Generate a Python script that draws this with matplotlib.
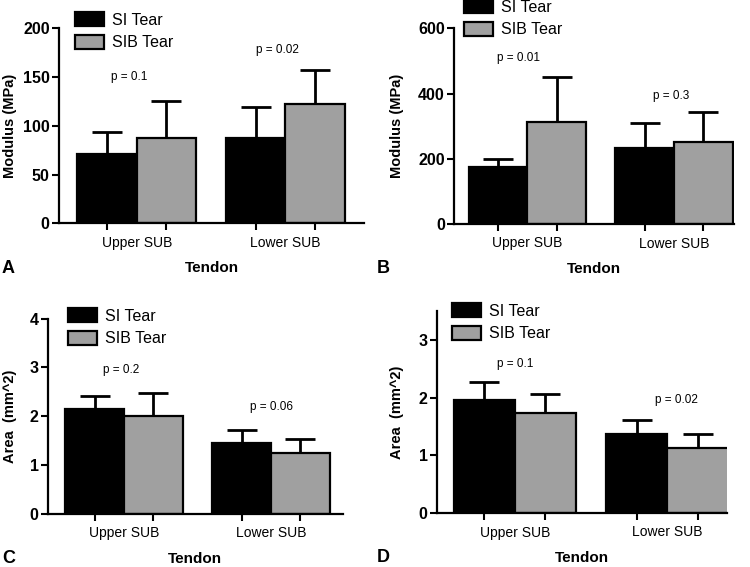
import numpy as np
import matplotlib
matplotlib.use('Agg')
import matplotlib.pyplot as plt
from matplotlib.patches import Patch

plt.rcParams['font.family'] = ['Liberation Sans', 'DejaVu Sans']

tendons = ['Upper SUB', 'Lower SUB']
series = ['SI Tear', 'SIB Tear']
colors = ['#000000', '#a0a0a0']

# panel A: modulus
mod_a_si = [71, 87]
mod_a_si_err = [23, 32]
mod_a_sib = [88, 122]
mod_a_sib_err = [37, 35]
mod_a_p = ['p = 0.1', 'p = 0.02']
mod_a_p_y = [150, 178]

# panel B: modulus
mod_b_si = [176, 232]
mod_b_si_err = [24, 79]
mod_b_sib = [313, 252]
mod_b_sib_err = [137, 91]
mod_b_p = ['p = 0.01', 'p = 0.3']
mod_b_p_y = [508, 393]

# panel C: area
area_c_si = [2.15, 1.45]
area_c_si_err = [0.27, 0.27]
area_c_sib = [2.0, 1.25]
area_c_sib_err = [0.48, 0.29]
area_c_p = ['p = 0.2', 'p = 0.06']
area_c_p_y = [2.94, 2.19]

# panel D: area
area_d_si = [1.96, 1.37]
area_d_si_err = [0.31, 0.25]
area_d_sib = [1.73, 1.12]
area_d_sib_err = [0.34, 0.25]
area_d_p = ['p = 0.1', 'p = 0.02']
area_d_p_y = [2.58, 1.96]

W, H = 750, 567
fig = plt.figure(figsize=(W / 100, H / 100), dpi=100)


def panel(box, xlim, ylim, yticks, ylabel, si, si_err, sib, sib_err,
          ptxt, py, px, letter, leg_anchor, ylab_x, width=0.4):
    left, right, bottom, top = box
    ax = fig.add_axes([left / W, 1 - bottom / H, (right - left) / W, (bottom - top) / H])
    x = np.arange(len(tendons))
    xs = [x - width / 2, x + width / 2]
    for xi, vals, errs, c in zip(xs, [si, sib], [si_err, sib_err], colors):
        ax.bar(xi, vals, width, color=c, edgecolor='black', linewidth=1.6, zorder=2)
        ax.errorbar(xi, vals, yerr=[np.zeros(len(vals)), errs], fmt='none',
                    ecolor='black', elinewidth=2, capsize=11, capthick=2, zorder=1)
    ax.set_xlim(*xlim)
    ax.set_ylim(*ylim)
    ax.set_yticks(yticks)
    # Prism style: a tick under every bar, label under the group
    ax.set_xticks(np.concatenate(xs))
    ax.set_xticklabels([])
    ax.set_xticks(x, minor=True)
    ax.set_xticklabels(tendons, minor=True, fontsize=10)
    ax.tick_params(axis='x', which='minor', length=0, pad=9)
    ax.tick_params(axis='x', which='major', length=5, width=1.5)
    ax.tick_params(axis='y', length=5, width=1.5, labelsize=11.5, pad=1.5)
    for t in ax.get_yticklabels():
        t.set_fontweight('bold')
    for s in ['top', 'right']:
        ax.spines[s].set_visible(False)
    for s in ['left', 'bottom']:
        ax.spines[s].set_linewidth(1.6)
    for t, yy, xx in zip(ptxt, py, px):
        ax.text(xx, yy, t, ha='center', va='center', fontsize=8.5)
    fig.text(ylab_x / W, 1 - (top + bottom) / 2 / H, ylabel, rotation=90,
             ha='center', va='center', fontsize=10.5, fontweight='bold')
    fig.text((left + right) / 2 / W, 1 - (bottom + 45) / H, 'Tendon',
             ha='center', va='center', fontsize=11, fontweight='bold')
    fig.text(letter[1] / W, 1 - (bottom + 45) / H, letter[0],
             ha='left', va='center', fontsize=13, fontweight='bold')
    handles = [Patch(facecolor=c, edgecolor='black', linewidth=1.6) for c in colors]
    fig.legend(handles, series, loc='upper left',
               bbox_to_anchor=(leg_anchor[0] / W, 1 - leg_anchor[1] / H),
               frameon=False, fontsize=11.5, handlelength=1.8, handleheight=1.0,
               handletextpad=0.5, labelspacing=0.45, borderpad=0, borderaxespad=0)
    return ax


panel((58.7, 364.3, 223.3, 28.3), (-0.526, 1.533), (0, 200), [0, 50, 100, 150, 200],
      'Modulus (MPa)', mod_a_si, mod_a_si_err, mod_a_sib, mod_a_sib_err,
      mod_a_p, mod_a_p_y, [-0.05, 0.95], ('A', 2), (75, 12), 10)
panel((454, 734, 224, 28.3), (-0.5, 1.41), (0, 600), [0, 200, 400, 600],
      'Modulus (MPa)', mod_b_si, mod_b_si_err, mod_b_sib, mod_b_sib_err,
      mod_b_p, mod_b_p_y, [-0.06, 0.98], ('B', 377), (464, -1), 397)
panel((47.7, 343, 513.7, 318.7), (-0.52, 1.49), (0, 4), [0, 1, 2, 3, 4],
      'Area  (mm^2)', area_c_si, area_c_si_err, area_c_sib, area_c_sib_err,
      area_c_p, area_c_p_y, [-0.02, 1.0], ('C', 2), (68, 308), 10)
panel((436.7, 727, 513, 311.3), (-0.511, 1.39), (0, 3.5), [0, 1, 2, 3],
      'Area  (mm^2)', area_d_si, area_d_si_err, area_d_sib, area_d_sib_err,
      area_d_p, area_d_p_y, [0.0, 1.06], ('D', 377), (452, 303), 397)

fig.savefig('out.png', dpi=100)
